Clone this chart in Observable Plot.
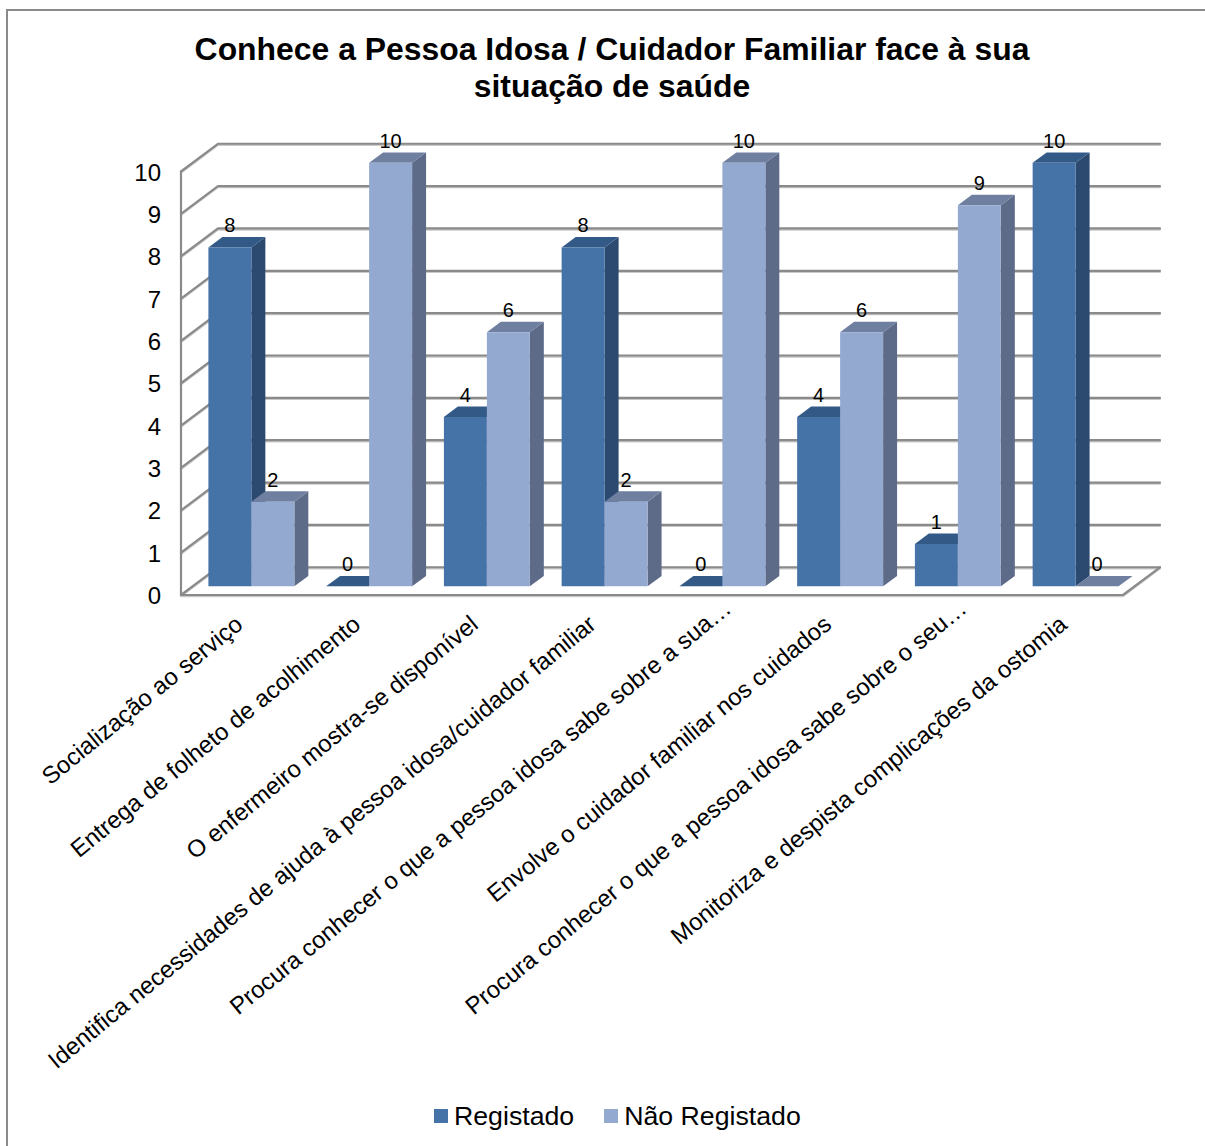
<!DOCTYPE html>
<html lang="pt">
<head>
<meta charset="utf-8">
<script src="https://cdn.jsdelivr.net/npm/d3@7"></script>
<script src="https://cdn.jsdelivr.net/npm/@observablehq/plot@0.6"></script>
<style>
  html, body { margin: 0; padding: 0; background: #fff; }
  #page { position: relative; width: 1205px; height: 1146px; overflow: hidden; font-family: "Liberation Sans", Arial, sans-serif; color: #000; }
  #frame { position: absolute; left: 6px; top: 9px; width: 1400px; height: 1400px; border: 2px solid #8a8a8a; }
  #title { position: relative; height: 114px; box-sizing: border-box; padding-top: 31px; width: 1224px; text-align: center; font-weight: bold; font-size: 31.9px; line-height: 37px; }
  #chart { position: relative; height: 976px; }
  #chart svg { display: block; overflow: visible; }
  #legend { position: relative; height: 52px; display: flex; font-size: 26.7px; align-items: center; padding-left: 434px; box-sizing: border-box; }
  #legend i { display: inline-block; width: 14px; height: 14px; margin-right: 6px; }
  #legend span { display: inline-flex; align-items: center; margin-right: 30px; }
</style>
</head>
<body>
<div id="page">
  <div id="frame"></div>
  <div id="title">Conhece a Pessoa Idosa / Cuidador Familiar face à sua<br>situação de saúde</div>
  <div id="chart"></div>
  <div id="legend"></div>
</div>
<script>
// Answers per item, out of ten records reviewed
const categories = [
  "Socialização ao serviço",
  "Entrega de folheto de acolhimento",
  "O enfermeiro mostra-se disponível",
  "Identifica necessidades de ajuda à pessoa idosa/cuidador familiar",
  "Procura conhecer o que a pessoa idosa sabe sobre a sua…",
  "Envolve o cuidador familiar nos cuidados",
  "Procura conhecer o que a pessoa idosa sabe sobre o seu…",
  "Monitoriza e despista complicações da ostomia"
];
const registado = [8, 0, 4, 8, 0, 4, 1, 10];
const naoRegistado = [2, 10, 6, 2, 10, 6, 9, 0];
const seriesNames = ["Registado", "Não Registado"];
const yTicks = [0, 1, 2, 3, 4, 5, 6, 7, 8, 9, 10];

// Shades of each series: front, top and side faces of the columns
const palette = [
  { front: "#4572a7", top: "#335a87", side: "#2c4a70" },
  { front: "#94a9d0", top: "#6f7fa0", side: "#5e6b88" }
];
const gridColor = "#8a8a8a";

// Oblique projection: depth 0 is the front of the floor, depth 1 the back wall
const depthX = 0.314;
const depthY = 0.655;
const project = (x, v, d) => ({ x: x + d * depthX, y: v + d * depthY });

const barWidth = 0.365;
const barFront = 0.311;
const barBack = 0.689;

// Column faces in painting order, left to right
const faces = [];
const fronts = [];
const labels = [];
const polygon = (id, color, pts) => pts.forEach(p => faces.push({ id, color, ...p }));

[registado, naoRegistado].forEach((values, s) => values.forEach((v, i) => {
  fronts.push({ s, i, v });
}));
fronts.sort((a, b) => a.i - b.i || a.s - b.s);

fronts.forEach(({ s, i, v }) => {
  const x0 = i + 0.5 + (s - 1) * barWidth;
  const x1 = x0 + barWidth;
  const c = palette[s];
  const key = `${i}-${s}`;
  polygon(`${key}-side`, c.side, [
    project(x1, 0, barFront), project(x1, 0, barBack),
    project(x1, v, barBack), project(x1, v, barFront)
  ]);
  polygon(`${key}-top`, c.top, [
    project(x0, v, barFront), project(x1, v, barFront),
    project(x1, v, barBack), project(x0, v, barBack)
  ]);
  polygon(`${key}-front`, c.front, [
    project(x0, 0, barFront), project(x1, 0, barFront),
    project(x1, v, barFront), project(x0, v, barFront)
  ]);
  labels.push({ ...project((x0 + x1) / 2, v, barFront), text: String(v) });
});

// Walls and floor: each gridline runs along the side wall, then the back wall
const gridLines = yTicks.flatMap(t => [
  { id: t, ...project(0, t, 0) },
  { id: t, ...project(0, t, 1) },
  { id: t, ...project(8, t, 1) }
]);
const floorEdge = [project(0, 0, 0), project(8, 0, 0), project(8, 0, 1)];
const wallEdge = [project(0, 0, 0), project(0, 10, 0)];

// Category labels; the shortened ones sit a little further up their slant
const categoryLabels = categories.map((name, i) => ({ name, i }));
const isShortened = d => d.name.endsWith("…");
const categoryText = (rows, dx, dy) => Plot.text(rows, {
  x: d => d.i + 0.5,
  y: () => 0,
  text: "name",
  rotate: -39.3,
  textAnchor: "end",
  lineAnchor: "middle",
  dx,
  dy,
  fontSize: 24,
  fill: "#000"
});

const chart = Plot.plot({
  width: 1205,
  height: 976,
  marginLeft: 180.5,
  marginRight: 82.5,
  marginTop: 57,
  marginBottom: 495.5,
  style: { fontFamily: "'Liberation Sans', Arial, sans-serif", background: "transparent", color: "#000" },
  x: { domain: [0, 8], axis: null },
  y: { domain: [0, 10], axis: null },
  color: { type: "identity" },
  marks: [
    Plot.line(gridLines, { x: "x", y: "y", z: "id", stroke: "#c9c9c9", strokeWidth: 2, dy: 1.2 }),
    Plot.line(gridLines, { x: "x", y: "y", z: "id", stroke: gridColor, strokeWidth: 2.2 }),
    Plot.line(floorEdge, { x: "x", y: "y", stroke: "#c9c9c9", strokeWidth: 2, dy: 1.2 }),
    Plot.line(floorEdge, { x: "x", y: "y", stroke: gridColor, strokeWidth: 2.2 }),
    Plot.line(wallEdge, { x: "x", y: "y", stroke: gridColor, strokeWidth: 2.2 }),
    Plot.line(faces, { x: "x", y: "y", z: "id", fill: "color", stroke: "none" }),
    Plot.axisY({ ticks: yTicks, tickSize: 0, tickPadding: 20, fontSize: 24, label: null, tickFormat: d => String(d), marginLeft: 180.5, dy: 1.5 }),
    categoryText(categoryLabels.filter(d => !isShortened(d)), -0.5, 26),
    categoryText(categoryLabels.filter(isShortened), 17, 10),
    Plot.text(labels, { x: "x", y: "y", text: "text", dy: -21.5, fontSize: 20, fill: "#000" })
  ]
});
document.getElementById("chart").appendChild(chart);

// Legend below the plot
const legend = document.getElementById("legend");
seriesNames.forEach((name, s) => {
  const item = document.createElement("span");
  const swatch = document.createElement("i");
  swatch.style.background = palette[s].front;
  item.append(swatch, name);
  legend.appendChild(item);
});
</script>
</body>
</html>
